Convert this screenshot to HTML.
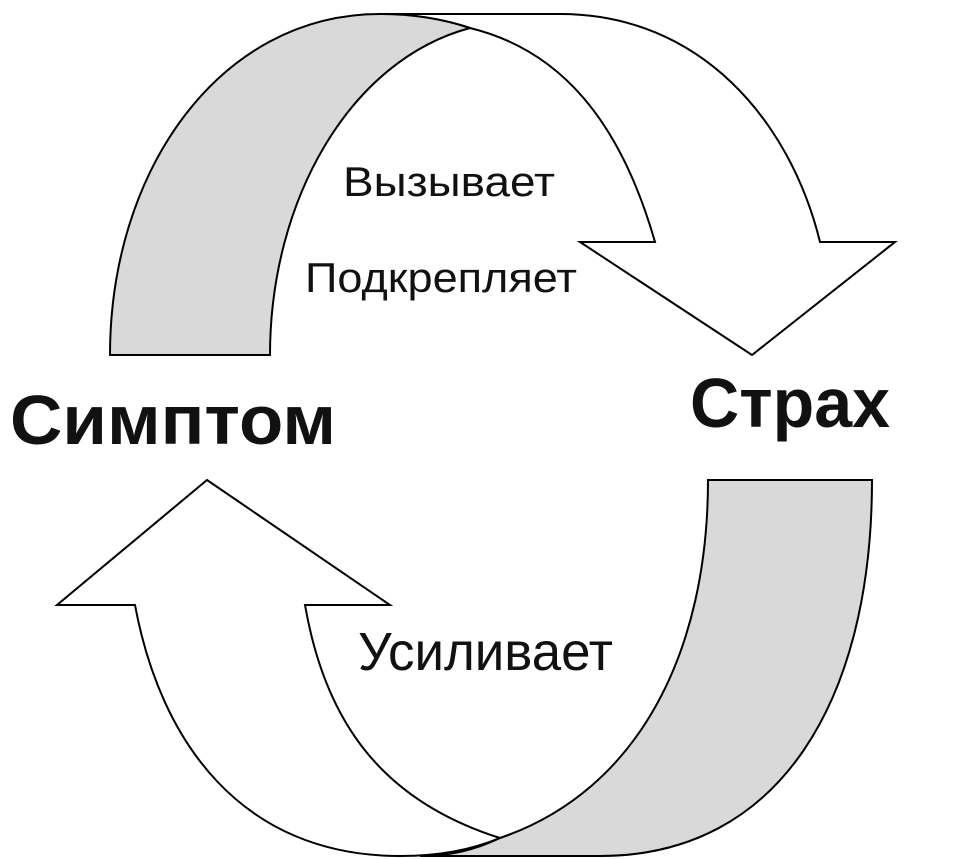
<!DOCTYPE html>
<html><head><meta charset="utf-8"><style>html,body{margin:0;padding:0;background:#fff}svg{display:block}</style></head>
<body>
<svg width="960" height="859" viewBox="0 0 960 859" xmlns="http://www.w3.org/2000/svg">
<g stroke="#000" stroke-width="2" stroke-linejoin="miter">
<path fill="#fff" d="M380,14 L560,14 C700,14 790,120 820,242 L895,242 L752,355 L580,242 L655,242 C620,120 560,50 470,28 C440,18 410,14 380,14 Z"/>
<path fill="#d9d9d9" d="M110,355 L270,355 C270,200 350,60 470,28 C440,18 410,14 380,14 C220,14 110,170 110,355 Z"/>
<path fill="#fff" d="M207,480 L390,605 L305,605 C325,720 380,800 500,838 C470,850 440,856 400,856 C240,856 160,740 135,605 L57,605 Z"/>
<path fill="#d9d9d9" d="M708,480 L872,480 C872,700 780,856 600,856 L420,856 C450,856 475,850 500,838 C640,790 708,650 708,480 Z"/>
</g>
<g font-family="Liberation Sans, DejaVu Sans, sans-serif" fill="#111">
<text x="343" y="196" font-size="42" textLength="212" lengthAdjust="spacingAndGlyphs">Вызывает</text>
<text x="305" y="292" font-size="42" textLength="272" lengthAdjust="spacingAndGlyphs">Подкрепляет</text>
<text x="358" y="670" font-size="54" textLength="255" lengthAdjust="spacingAndGlyphs">Усиливает</text>
<text x="10" y="444" font-size="70" font-weight="bold" textLength="326" lengthAdjust="spacingAndGlyphs">Симптом</text>
<text x="690" y="427" font-size="70" font-weight="bold" textLength="200" lengthAdjust="spacingAndGlyphs">Страх</text>
</g>
</svg>
</body></html>
